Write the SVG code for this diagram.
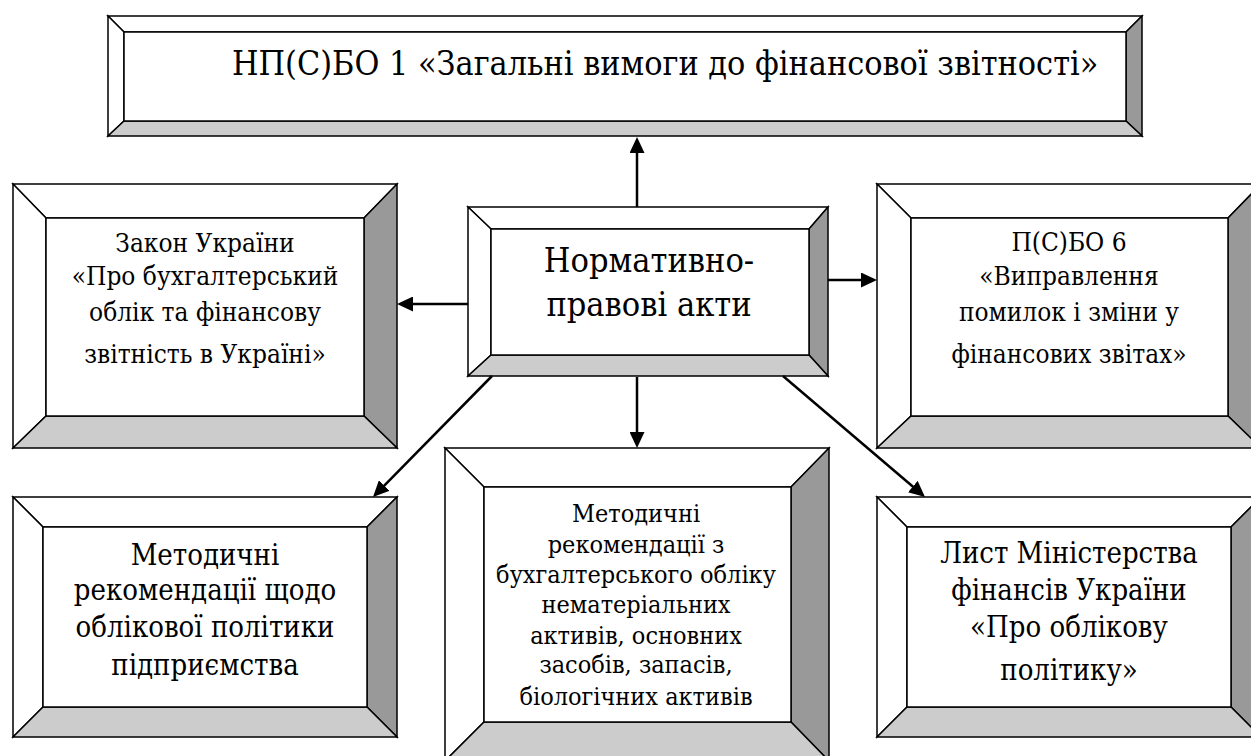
<svg xmlns="http://www.w3.org/2000/svg" width="1251" height="756" viewBox="0 0 1251 756">
  <style>
    .edge { stroke: #000; stroke-width: 1.5; stroke-linejoin: miter; }
    .lt { fill: #fff; }
    .dk { fill: #999; }
    .md { fill: #ccc; }
    .face { fill: #fff; stroke: #000; stroke-width: 1.5; }
    text { fill: #000; text-anchor: middle; font-family: "DejaVu Serif Condensed", "DejaVu Serif", "Liberation Serif", serif; font-stretch: condensed; }
    .link { stroke: #000; stroke-width: 2.5; fill: none; marker-end: url(#head); }
  </style>
  <defs>
    <marker id="head" markerUnits="userSpaceOnUse" markerWidth="16" markerHeight="15" refX="8" refY="7.5" orient="auto">
      <path d="M0,0 L16,7.5 L0,15 z" fill="#000"/>
    </marker>
  </defs>
  <rect width="1251" height="756" fill="#fff"/>

  <!-- top: НП(С)БО 1 -->
  <g id="npsbo1">
    <polygon class="edge lt" points="108,16 1142,16 1126,32 124,32"/>
    <polygon class="edge lt" points="108,16 124,32 124,121 108,136"/>
    <polygon class="edge dk" points="1142,16 1142,136 1126,121 1126,32"/>
    <polygon class="edge md" points="108,136 124,121 1126,121 1142,136"/>
    <rect class="face" x="124" y="32" width="1002" height="89"/>
    <text x="232" y="75" font-size="33.8" style="text-anchor:start">НП(С)БО 1 «Загальні вимоги до фінансової звітності»</text>
  </g>

  <!-- centre: Нормативно-правові акти -->
  <g id="normatyvni-akty">
    <polygon class="edge lt" points="468,207 828,207 809,229 491,229"/>
    <polygon class="edge lt" points="468,207 491,229 491,355 468,376"/>
    <polygon class="edge dk" points="828,207 828,376 809,355 809,229"/>
    <polygon class="edge md" points="468,376 491,355 809,355 828,376"/>
    <rect class="face" x="491" y="229" width="318" height="126"/>
    <text font-size="34"><tspan x="649" y="272">Нормативно-</tspan><tspan x="649" y="316">правові акти</tspan></text>
  </g>

  <!-- left: Закон України -->
  <g id="zakon">
    <polygon class="edge lt" points="13,184 397,184 364,218 46,218"/>
    <polygon class="edge lt" points="13,184 46,218 46,416 13,448"/>
    <polygon class="edge dk" points="397,184 397,448 364,416 364,218"/>
    <polygon class="edge md" points="13,448 46,416 364,416 397,448"/>
    <rect class="face" x="46" y="218" width="318" height="198"/>
    <text font-size="26"><tspan x="205" y="252">Закон України</tspan><tspan x="205" y="285">«Про бухгалтерський</tspan><tspan x="205" y="321">облік та фінансову</tspan><tspan x="205" y="363">звітність в Україні»</tspan></text>
  </g>

  <!-- right: П(С)БО 6 -->
  <g id="psbo6">
    <polygon class="edge lt" points="877,184 1261,184 1228,218 911,218"/>
    <polygon class="edge lt" points="877,184 911,218 911,416 877,448"/>
    <polygon class="edge dk" points="1261,184 1261,448 1228,416 1228,218"/>
    <polygon class="edge md" points="877,448 911,416 1228,416 1261,448"/>
    <rect class="face" x="911" y="218" width="317" height="198"/>
    <text font-size="26"><tspan x="1069" y="251">П(С)БО 6</tspan><tspan x="1069" y="285">«Виправлення</tspan><tspan x="1069" y="321">помилок і зміни у</tspan><tspan x="1069" y="363">фінансових звітах»</tspan></text>
  </g>

  <!-- bottom left: облікова політика -->
  <g id="metod-oblikova">
    <polygon class="edge lt" points="13,497 397,497 367,527 43,527"/>
    <polygon class="edge lt" points="13,497 43,527 43,707 13,737"/>
    <polygon class="edge dk" points="397,497 397,737 367,707 367,527"/>
    <polygon class="edge md" points="13,737 43,707 367,707 397,737"/>
    <rect class="face" x="43" y="527" width="324" height="180"/>
    <text font-size="29"><tspan x="205" y="565">Методичні</tspan><tspan x="205" y="600">рекомендації щодо</tspan><tspan x="205" y="637">облікової політики</tspan><tspan x="205" y="675">підприємства</tspan></text>
  </g>

  <!-- bottom centre: активи -->
  <g id="metod-aktyvy">
    <polygon class="edge lt" points="445,448 829,448 791,487 484,487"/>
    <polygon class="edge lt" points="445,448 484,487 484,722 445,761"/>
    <polygon class="edge dk" points="829,448 829,761 791,722 791,487"/>
    <polygon class="edge md" points="445,761 484,722 791,722 829,761"/>
    <rect class="face" x="484" y="487" width="307" height="235"/>
    <text font-size="25"><tspan x="636" y="522">Методичні</tspan><tspan x="636" y="553">рекомендації з</tspan><tspan x="636" y="583">бухгалтерського обліку</tspan><tspan x="636" y="613">нематеріальних</tspan><tspan x="636" y="644">активів, основних</tspan><tspan x="636" y="673">засобів, запасів,</tspan><tspan x="636" y="705">біологічних активів</tspan></text>
  </g>

  <!-- bottom right: Лист Мінфіну -->
  <g id="lyst-minfin">
    <polygon class="edge lt" points="877,497 1261,497 1231,527 907,527"/>
    <polygon class="edge lt" points="877,497 907,527 907,707 877,737"/>
    <polygon class="edge dk" points="1261,497 1261,737 1231,707 1231,527"/>
    <polygon class="edge md" points="877,737 907,707 1231,707 1261,737"/>
    <rect class="face" x="907" y="527" width="324" height="180"/>
    <text font-size="29"><tspan x="1069" y="563">Лист Міністерства</tspan><tspan x="1069" y="600">фінансів України</tspan><tspan x="1069" y="637">«Про облікову</tspan><tspan x="1069" y="680">політику»</tspan></text>
  </g>

  <!-- connectors -->
  <g id="connectors">
    <line class="link" x1="637" y1="207" x2="637" y2="145"/>
    <line class="link" x1="468" y1="304" x2="405" y2="304"/>
    <line class="link" x1="828" y1="280" x2="869" y2="280"/>
    <line class="link" x1="637" y1="377" x2="637" y2="440"/>
    <line class="link" x1="492" y1="376" x2="378.6" y2="491.3"/>
    <line class="link" x1="783" y1="376" x2="918.9" y2="491.8"/>
  </g>
</svg>
